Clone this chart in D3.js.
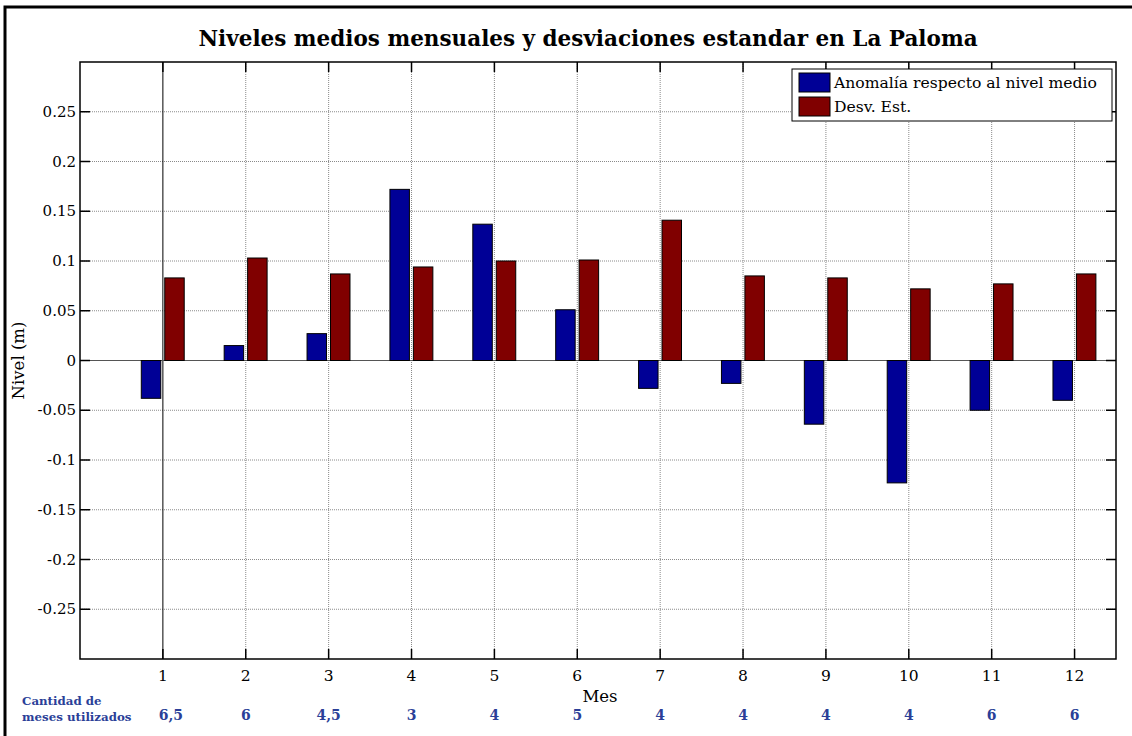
<!DOCTYPE html>
<html>
<head>
<meta charset="utf-8">
<script src="https://cdn.jsdelivr.net/npm/d3@7"></script>
<style>
  body { margin: 0; background: #fff; }
  text { font-family: "DejaVu Serif", "Liberation Serif", serif; }
</style>
</head>
<body>
<div id="chart"></div>
<script>
'use strict';

// data
var months    = [1, 2, 3, 4, 5, 6, 7, 8, 9, 10, 11, 12];
var anomalia  = [-0.038, 0.015, 0.027, 0.172, 0.137, 0.051, -0.028, -0.023, -0.064, -0.123, -0.050, -0.040];
var desvEst   = [0.083, 0.103, 0.087, 0.094, 0.100, 0.101, 0.141, 0.085, 0.083, 0.072, 0.077, 0.087];
var cantidad  = ['6,5', '6', '4,5', '3', '4', '5', '4', '4', '4', '4', '6', '6'];
var yTicks    = [-0.25, -0.2, -0.15, -0.1, -0.05, 0, 0.05, 0.1, 0.15, 0.2, 0.25];
var seriesNames = ['Anomalía respecto al nivel medio', 'Desv. Est.'];

var width     = 1132,
    height    = 736,
    plotLeft  = 80,
    plotRight = 1116,
    plotTop   = 62,
    plotBot   = 659,
    blue      = '#000096',
    red       = '#800000',
    annot     = '#2b3f98';

var svg = d3.select('#chart')
    .append('svg')
    .attr('width', width)
    .attr('height', height);

// outer frame (only top and left edges fall inside the picture)
svg.append('path')
    .attr('d', 'M5,' + height + 'V7H' + width)
    .style('fill', 'none').style('stroke', '#000').attr('stroke-width', 3);

var x = d3.scaleLinear().domain([0, 12.5]).range([plotLeft, plotRight]);
var y = d3.scaleLinear().domain([-0.3, 0.3]).range([plotBot, plotTop]);

// grid
var grid = svg.append('g').attr('class', 'grid');
grid.selectAll('.hgrid')
    .data(yTicks)
    .enter()
    .append('line')
    .attr('x1', plotLeft).attr('x2', plotRight)
    .attr('y1', function (d) { return y(d); })
    .attr('y2', function (d) { return y(d); })
    .style('stroke', '#8a8a8a').style('stroke-dasharray', '1,1');
grid.selectAll('.vgrid')
    .data(months)
    .enter()
    .append('line')
    .attr('y1', plotTop).attr('y2', plotBot)
    .attr('x1', function (d) { return x(d); })
    .attr('x2', function (d) { return x(d); })
    .style('stroke', function (d) { return d === 1 ? '#000' : '#8a8a8a'; })
    .style('stroke-dasharray', function (d) { return d === 1 ? null : '1,1'; });

// zero line
svg.append('line')
    .attr('x1', plotLeft).attr('x2', plotRight)
    .attr('y1', y(0)).attr('y2', y(0))
    .style('stroke', '#555');

// bars
var barW = x(0.235) - x(0);
function drawBars(values, offset, color) {
    svg.append('g').selectAll('rect')
        .data(values)
        .enter()
        .append('rect')
        .attr('x', function (d, i) { return x(months[i] + offset) - barW / 2; })
        .attr('y', function (d) { return y(Math.max(0, d)); })
        .attr('width', barW)
        .attr('height', function (d) { return Math.abs(y(d) - y(0)); })
        .style('fill', color)
        .style('stroke', '#000')
        .attr('stroke-width', 1);
}
drawBars(anomalia, -0.143, blue);
drawBars(desvEst, 0.14, red);

// axes box
svg.append('rect')
    .attr('x', plotLeft).attr('y', plotTop)
    .attr('width', plotRight - plotLeft).attr('height', plotBot - plotTop)
    .style('fill', 'none').style('stroke', '#000').attr('stroke-width', 1.5);

// inward ticks
var ticks = svg.append('g').style('stroke', '#000').attr('stroke-width', 1.5);
ticks.selectAll('.tb').data(months).enter().append('line')
    .attr('x1', function (d) { return x(d); }).attr('x2', function (d) { return x(d); })
    .attr('y1', plotBot).attr('y2', plotBot - 10);
ticks.selectAll('.tt').data(months).enter().append('line')
    .attr('x1', function (d) { return x(d); }).attr('x2', function (d) { return x(d); })
    .attr('y1', plotTop).attr('y2', plotTop + 10);
ticks.selectAll('.tl').data(yTicks).enter().append('line')
    .attr('y1', function (d) { return y(d); }).attr('y2', function (d) { return y(d); })
    .attr('x1', plotLeft).attr('x2', plotLeft + 10);
ticks.selectAll('.tr').data(yTicks).enter().append('line')
    .attr('y1', function (d) { return y(d); }).attr('y2', function (d) { return y(d); })
    .attr('x1', plotRight).attr('x2', plotRight - 10);

// tick labels
svg.append('g').selectAll('text')
    .data(yTicks)
    .enter()
    .append('text')
    .attr('x', plotLeft - 4)
    .attr('y', function (d) { return y(d) + 5; })
    .attr('text-anchor', 'end')
    .style('font-size', '15px')
    .text(function (d) { return String(+d.toFixed(2)); });

svg.append('g').selectAll('text')
    .data(months)
    .enter()
    .append('text')
    .attr('x', function (d) { return x(d); })
    .attr('y', 681)
    .attr('text-anchor', 'middle')
    .style('font-size', '15.5px')
    .text(function (d) { return d; });

// axis titles
svg.append('text')
    .attr('x', x(6.25) + 2).attr('y', 702)
    .attr('text-anchor', 'middle')
    .style('font-size', '16.5px')
    .text('Mes');
svg.append('text')
    .attr('transform', 'translate(24,' + y(0) + ') rotate(-90)')
    .attr('text-anchor', 'middle')
    .style('font-size', '16.5px')
    .text('Nivel (m)');

// title
svg.append('text')
    .attr('x', 588).attr('y', 46)
    .attr('text-anchor', 'middle')
    .style('font-size', '21.5px')
    .style('font-weight', 'bold')
    .text('Niveles medios mensuales y desviaciones estandar en La Paloma');

// legend
var legend = svg.append('g').attr('transform', 'translate(792,69)');
legend.append('rect')
    .attr('width', 320).attr('height', 52)
    .style('fill', '#fff').style('stroke', '#000');
legend.selectAll('.sw')
    .data(seriesNames)
    .enter()
    .append('rect')
    .attr('x', 7).attr('y', function (d, i) { return 4 + i * 24; })
    .attr('width', 31).attr('height', 19)
    .style('fill', function (d, i) { return i === 0 ? blue : red; })
    .style('stroke', '#000');
legend.selectAll('text')
    .data(seriesNames)
    .enter()
    .append('text')
    .attr('x', 42).attr('y', function (d, i) { return 19 + i * 24; })
    .style('font-size', '15.6px')
    .text(function (d) { return d; });

// meses utilizados
var note = svg.append('g')
    .style('fill', annot)
    .style('font-weight', 'bold')
    .style('font-size', '11.8px');
note.append('text').attr('x', 22).attr('y', 705).text('Cantidad de');
note.append('text').attr('x', 22).attr('y', 721).text('meses utilizados');
note.selectAll('.cnt')
    .data(cantidad)
    .enter()
    .append('text')
    .attr('x', function (d, i) { return x(months[i]) + (i === 0 ? 8 : 0); })
    .attr('y', 720)
    .attr('text-anchor', 'middle')
    .style('font-size', '14px')
    .text(function (d) { return d; });
</script>
</body>
</html>
